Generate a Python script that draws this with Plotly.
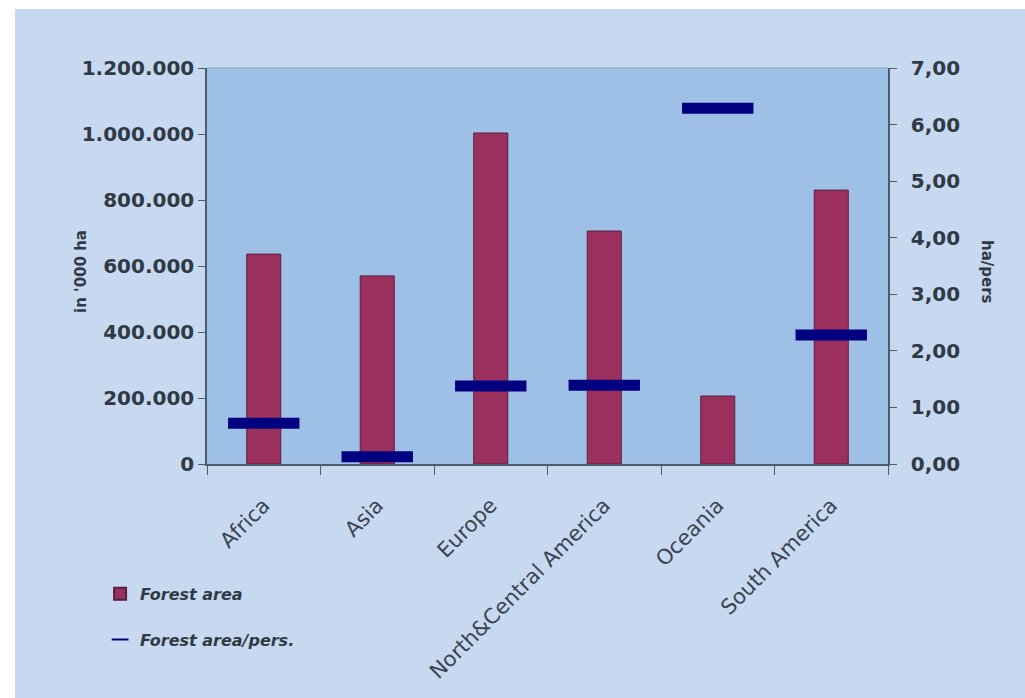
import plotly.graph_objects as go

regions = ["Africa", "Asia", "Europe", "North&Central America", "Oceania", "South America"]
forest_area = [636000, 570000, 1003000, 706000, 206000, 830000]
forest_per_pers = [0.72, 0.13, 1.38, 1.39, 6.29, 2.28]
left_ticks = [0, 200000, 400000, 600000, 800000, 1000000, 1200000]
right_ticks = [0, 1, 2, 3, 4, 5, 6, 7]

FONT = "DejaVu Sans"
text_col = "#303944"
tick_font = dict(family=FONT, size=20, color=text_col, weight="bold")
axis_line = "#4d5d6e"

fig = go.Figure()
fig.add_trace(go.Bar(
    x=regions, y=forest_area, name="Forest area", width=0.3,
    marker=dict(color="#9b2f5e", line=dict(color="#5a2040", width=1)),
    legendgroup="a", yaxis="y",
))
fig.add_trace(go.Scatter(
    x=regions, y=forest_per_pers, name="Forest area/pers.", mode="markers",
    marker=dict(symbol="line-ew", size=51, line=dict(color="#000080", width=11)),
    legendgroup="b", yaxis="y2",
))

fig.update_layout(
    width=1025, height=698,
    margin=dict(l=207, r=137, t=68, b=234),
    paper_bgcolor="#c6d9f0",
    plot_bgcolor="#9fc0e6",
    separators=",.",
    showlegend=True,
    legend=dict(x=-0.157, y=-0.285, xanchor="left", yanchor="top",
                bgcolor="rgba(0,0,0,0)", tracegroupgap=22, itemsizing="constant",
                font=dict(family=FONT, size=16, color=text_col, weight="bold", style="italic")),
    xaxis=dict(
        range=[-0.5, 5.5],
        tickangle=-45, tickfont=dict(family=FONT, size=21, color="#3a4350"),
        ticklabelstandoff=19,
        showline=True, linecolor=axis_line, linewidth=1.5, mirror=False,
        ticks="outside", ticklen=9, tickcolor=axis_line, tickson="boundaries",
        showgrid=False,
    ),
    yaxis=dict(
        range=[0, 1200000], tickvals=left_ticks, tickformat=",d",
        tickfont=tick_font, showline=True, linecolor=axis_line, linewidth=1.5,
        ticks="outside", ticklen=7, tickcolor=axis_line, showgrid=False, zeroline=False,
    ),
    yaxis2=dict(
        range=[0, 7], tickvals=right_ticks, tickformat=".2f", overlaying="y", side="right",
        tickfont=tick_font, showline=True, linecolor=axis_line, linewidth=1.5,
        ticks="outside", ticklen=7, tickcolor=axis_line, showgrid=False, zeroline=False,
        ticklabelstandoff=10,
    ),
    shapes=[
        dict(type="rect", xref="paper", yref="paper", x0=-0.31, x1=1.21, y0=1.149, y1=1.18,
             fillcolor="white", line=dict(width=0), layer="above"),
        dict(type="rect", xref="paper", yref="paper", x0=-0.31, x1=-0.282, y0=-0.6, y1=1.18,
             fillcolor="white", line=dict(width=0), layer="above"),
        dict(type="line", xref="paper", yref="paper", x0=0, x1=1, y0=1, y1=1,
             line=dict(color="#8a9bb0", width=1)),
    ],
    annotations=[
        dict(text="in '000 ha", xref="paper", yref="paper", x=(70 - 207) / 681, y=(464 - 272) / 396,
             showarrow=False, textangle=-90, font=dict(family=FONT, size=15, color=text_col, weight="bold")),
        dict(text="ha/pers", xref="paper", yref="paper", x=(998 - 207) / 681, y=(464 - 272) / 396,
             showarrow=False, textangle=90, font=dict(family=FONT, size=15, color=text_col, weight="bold")),
    ],
)

fig.write_html("out.html")
